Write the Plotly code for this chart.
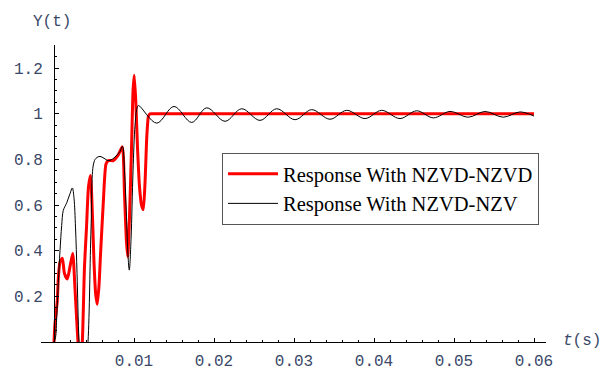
import plotly.graph_objects as go

# --- data ---
t_nzvd = [0.0, 0.000125, 0.00041, 0.00054, 0.00075, 0.00104, 0.00131, 0.00166, 0.0020, 0.00234,
          0.00263, 0.00284, 0.0030, 0.00325, 0.00354, 0.00381, 0.00406, 0.00431, 0.00456, 0.00481,
          0.0050, 0.00521, 0.00541, 0.00563, 0.00581, 0.00616, 0.0065, 0.00679, 0.00741, 0.00804,
          0.00854, 0.00881, 0.00904, 0.00921, 0.00944, 0.00969, 0.00988, 0.01003, 0.01023, 0.01044,
          0.01069, 0.01094, 0.01116, 0.01138, 0.0116, 0.01181, 0.0120, 0.0125, 0.0600]
y_nzvd = [0.0, 0.08, 0.18, 0.28, 0.35, 0.367, 0.30, 0.276, 0.33, 0.388,
          0.23, 0.095, 0.0, -0.12, 0.0, 0.33, 0.50, 0.68, 0.73, 0.55,
          0.35, 0.21, 0.165, 0.25, 0.38, 0.61, 0.78, 0.795, 0.795, 0.82,
          0.855, 0.65, 0.45, 0.374, 0.55, 0.85, 1.10, 1.169, 1.05, 0.85,
          0.68, 0.60, 0.58, 0.70, 0.90, 0.99, 1.0, 1.0, 1.0]

t_nzv = [0.0, 0.00019, 0.00034, 0.00054, 0.00075, 0.00096, 0.00116, 0.00159, 0.0020, 0.00229,
         0.0025, 0.00269, 0.00288, 0.00313, 0.0035, 0.00388, 0.00425, 0.00463, 0.00494, 0.00525,
         0.00575, 0.00625, 0.00675, 0.00725, 0.00775, 0.00825, 0.00856, 0.00881, 0.00906, 0.00925,
         0.00941, 0.00963, 0.00988, 0.01013, 0.01038, 0.01056,
         0.01284, 0.0150, 0.01721, 0.01909, 0.02138, 0.02346, 0.02575, 0.02784, 0.03013, 0.03221,
         0.0345, 0.03659, 0.03888, 0.04096, 0.04325, 0.04534, 0.04741, 0.0495, 0.05179, 0.05388,
         0.05616, 0.05825, 0.0600]
y_nzv = [0.0, 0.02, 0.11, 0.26, 0.40, 0.51, 0.576, 0.61, 0.65, 0.675,
         0.63, 0.50, 0.30, 0.0, -0.2, -0.15, 0.0, 0.5, 0.78, 0.805,
         0.813, 0.805, 0.795, 0.80, 0.815, 0.835, 0.857, 0.75, 0.55, 0.38,
         0.315, 0.45, 0.75, 0.95, 1.025, 1.036,
         0.959, 1.032, 0.962, 1.026, 0.967, 1.022, 0.971, 1.022, 0.974, 1.018,
         0.976, 1.015, 0.979, 1.015, 0.979, 1.013, 0.982, 1.010, 0.985, 1.010,
         0.985, 1.008, 0.990]

x_ticks = [0.01, 0.02, 0.03, 0.04, 0.05, 0.06]
x_tick_labels = ["0.01", "0.02", "0.03", "0.04", "0.05", "0.06"]
y_ticks = [0.2, 0.4, 0.6, 0.8, 1.0, 1.2]
y_tick_labels = ["0.2", "0.4", "0.6", "0.8", "1", "1.2"]

label_color = "#3a4868"
mono = "Liberation Mono, Courier New, monospace"

fig = go.Figure()
fig.add_trace(go.Scatter(x=t_nzvd, y=y_nzvd, mode="lines", name="Response With NZVD-NZVD",
                         line=dict(color="#ff0000", width=3, shape="spline", smoothing=0.6)))
fig.add_trace(go.Scatter(x=t_nzv, y=y_nzv, mode="lines", name="Response With NZVD-NZV",
                         line=dict(color="#000000", width=1, shape="spline", smoothing=1.0)))

fig.update_layout(
    width=604, height=383,
    margin=dict(l=41, r=58, t=45, b=27),
    plot_bgcolor="white", paper_bgcolor="white",
    showlegend=True,
    legend=dict(x=0.3584, y=0.6367, xanchor="left", yanchor="top",
                bgcolor="white", bordercolor="#555555", borderwidth=1,
                font=dict(family="Liberation Serif, Times New Roman, serif", size=20.5, color="black"),
                itemwidth=50, tracegroupgap=0),
    xaxis=dict(range=[-0.001625, 0.0615], showgrid=False, zeroline=False,
               showline=True, linecolor="black", linewidth=1,
               tickmode="array", tickvals=x_ticks, ticktext=x_tick_labels,
               ticks="inside", ticklen=4, tickcolor="black", tickwidth=1,
               ticklabelstandoff=4,
               tickfont=dict(family=mono, size=16, color=label_color),
               minor=dict(tickmode="linear", tick0=0, dtick=0.002, ticks="inside",
                          ticklen=2.5, tickcolor="black", tickwidth=1, showgrid=False)),
    yaxis=dict(range=[0, 1.3013], showgrid=False, zeroline=False,
               anchor="free", position=0.02574,
               showline=True, linecolor="black", linewidth=1,
               tickmode="array", tickvals=y_ticks, ticktext=y_tick_labels,
               ticks="inside", ticklen=4, tickcolor="black", tickwidth=1,
               ticklabelstandoff=8,
               tickfont=dict(family=mono, size=16, color=label_color),
               minor=dict(tickmode="linear", tick0=0, dtick=0.05, ticks="inside",
                          ticklen=2.5, tickcolor="black", tickwidth=1, showgrid=False)),
    annotations=[
        dict(text="Y(t)", xref="paper", yref="paper", x=0.0218, y=1.077,
             xanchor="center", yanchor="middle", showarrow=False,
             font=dict(family=mono, size=16, color=label_color)),
        dict(text="<i>t</i>(s)", xref="paper", yref="paper", x=1.111, y=0.003,
             xanchor="right", yanchor="middle", showarrow=False, borderpad=0,
             font=dict(family=mono, size=16, color=label_color)),
    ],
)

# remove the browser's default 8px page margin so the figure fills the window exactly
fig.write_html("out.html",
               config={"displayModeBar": False},
               post_script="document.body.style.margin='0px'; document.body.style.overflow='hidden';")
